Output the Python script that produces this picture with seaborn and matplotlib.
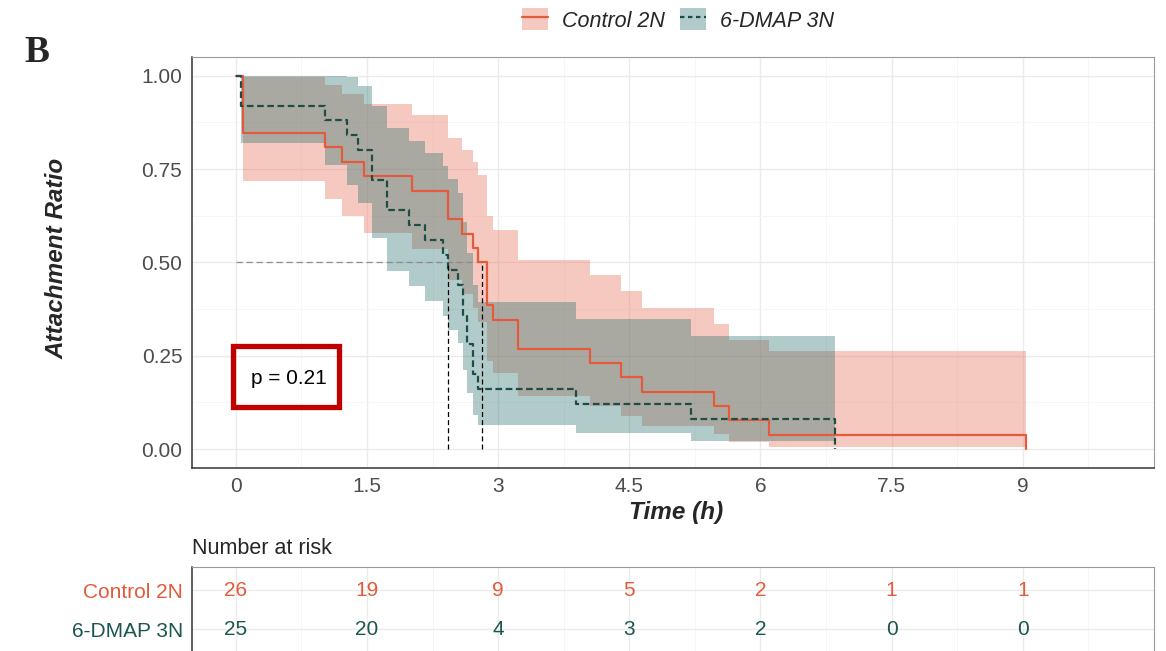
import numpy as np
import matplotlib
matplotlib.use("Agg")
import matplotlib.pyplot as plt
import seaborn as sns
from matplotlib.patches import Patch, Rectangle
from matplotlib.lines import Line2D

# ---------------- data ----------------
groups = ["Control 2N", "6-DMAP 3N"]

ctrl_time = [0, 0.08, 1.02, 1.22, 1.47, 2.01, 2.43, 2.59, 2.715, 2.765, 2.87, 2.945,
             3.23, 4.05, 4.40, 4.65, 5.47, 5.64, 6.10, 9.04]
ctrl_surv = [1, 0.846, 0.808, 0.769, 0.731, 0.692, 0.615, 0.577, 0.538, 0.500, 0.385,
             0.346, 0.269, 0.231, 0.192, 0.154, 0.115, 0.077, 0.038, 0.0]
ctrl_lower = [1, 0.718, 0.670, 0.623, 0.579, 0.536, 0.454, 0.415, 0.377, 0.340, 0.237,
              0.204, 0.143, 0.114, 0.088, 0.062, 0.040, 0.020, 0.006, np.nan]
ctrl_upper = [1, 0.997, 0.974, 0.950, 0.923, 0.895, 0.834, 0.802, 0.769, 0.734, 0.625,
              0.587, 0.507, 0.466, 0.423, 0.379, 0.335, 0.291, 0.263, np.nan]

dmap_time = [0, 0.065, 1.02, 1.27, 1.40, 1.556, 1.73, 1.98, 2.16, 2.375, 2.43, 2.54,
             2.60, 2.65, 2.715, 2.765, 3.89, 5.21, 6.85]
dmap_surv = [1, 0.92, 0.88, 0.84, 0.80, 0.72, 0.64, 0.60, 0.56, 0.52, 0.48, 0.44,
             0.36, 0.28, 0.20, 0.16, 0.12, 0.08, 0.0]
dmap_lower = [1, 0.820, 0.761, 0.708, 0.658, 0.564, 0.477, 0.436, 0.396, 0.357, 0.319,
              0.283, 0.213, 0.149, 0.091, 0.065, 0.042, 0.021, np.nan]
dmap_upper = [1, 1.0, 1.0, 0.997, 0.973, 0.919, 0.859, 0.826, 0.793, 0.758, 0.722,
              0.685, 0.607, 0.525, 0.438, 0.393, 0.347, 0.302, np.nan]

medians = [2.82, 2.43]
p_label = "p = 0.21"

risk_times = [0, 1.5, 3, 4.5, 6, 7.5, 9]
ctrl_risk = [26, 19, 9, 5, 2, 1, 1]
dmap_risk = [25, 20, 4, 3, 2, 0, 0]

x_ticks = [0, 1.5, 3, 4.5, 6, 7.5, 9]
x_ticklabels = ["0", "1.5", "3", "4.5", "6", "7.5", "9"]
y_ticks = [0, 0.25, 0.5, 0.75, 1.0]
y_ticklabels = ["0.00", "0.25", "0.50", "0.75", "1.00"]

# ---------------- style ----------------
sns.set_style("white")
plt.rcParams["font.family"] = ["Liberation Sans", "DejaVu Sans"]

C_CTRL_LINE = "#E35B3C"
C_CTRL_FILL = "#E96D55"
C_DMAP_LINE = "#1E4D45"
C_DMAP_FILL = "#2A736D"
C_DMAP_TEXT = "#1D5551"
ALPHA = 0.37
GRID_MAJ = "#EBEBEB"
GRID_MIN = "#F5F5F5"

W, H = 1166, 651
fig = plt.figure(figsize=(W / 100, H / 100), dpi=100)


def px(l, t, r, b):
    return [l / W, 1 - b / H, (r - l) / W, (b - t) / H]


ax = fig.add_axes(px(192, 57, 1154, 467.7))
axt = fig.add_axes(px(192, 567, 1154, 652.8))

XLIM = (-0.5, 10.5)


def setup_grid(a):
    a.set_xlim(*XLIM)
    a.set_xticks(x_ticks)
    a.set_xticks([0.75 + 1.5 * i for i in range(7)], minor=True)
    a.grid(which="major", color=GRID_MAJ, lw=1.0)
    a.grid(which="minor", color=GRID_MIN, lw=0.6)
    a.set_axisbelow(True)


# ---------------- main panel ----------------
setup_grid(ax)
ax.set_ylim(-0.05, 1.05)
ax.set_yticks(y_ticks)
ax.set_yticks([0.125, 0.375, 0.625, 0.875], minor=True)
ax.set_xticklabels(x_ticklabels)
ax.set_yticklabels(y_ticklabels)


def band(t, lo, hi, color):
    lo = np.asarray(lo, float).copy()
    hi = np.asarray(hi, float).copy()
    lo[-1] = lo[-2]
    hi[-1] = hi[-2]
    ax.fill_between(t, lo, hi, step="post", color=color, alpha=ALPHA, lw=0, zorder=1)


band(ctrl_time, ctrl_lower, ctrl_upper, C_CTRL_FILL)
band(dmap_time, dmap_lower, dmap_upper, C_DMAP_FILL)

sns.lineplot(x=ctrl_time, y=ctrl_surv, drawstyle="steps-post", estimator=None,
             sort=False, color=C_CTRL_LINE, lw=1.6, ax=ax, zorder=3)
sns.lineplot(x=dmap_time, y=dmap_surv, drawstyle="steps-post", estimator=None,
             sort=False, color=C_DMAP_LINE, lw=1.6, ax=ax, zorder=4,
             linestyle=(0, (3, 1.6)))

# median lines
ax.plot([0, max(medians)], [0.5, 0.5], color="#8C8C8C", lw=0.9,
        linestyle=(0, (5, 3)), zorder=2)
for m in medians:
    ax.plot([m, m], [0, 0.5], color="black", lw=0.9, linestyle=(0, (4, 2.5)), zorder=5)

# p-value box
ax.add_patch(Rectangle((-0.03, 0.113), 1.214, 0.1635, fill=False, ec="#C00000",
                       lw=3.8, zorder=6))
ax.text(0.61, 0.19, p_label, ha="center", va="center", fontsize=15, color="black", zorder=7)

ax.tick_params(axis="both", which="major", length=4, width=0.8, color="#333333",
               labelsize=15, labelcolor="#4D4D4D", pad=3)
ax.tick_params(axis="both", which="minor", length=0)
for s in ["left", "bottom"]:
    ax.spines[s].set_color("#333333")
    ax.spines[s].set_linewidth(1.1)
for s in ["top", "right"]:
    ax.spines[s].set_color("#9A9A9A")
    ax.spines[s].set_linewidth(0.8)
ax.set_xlabel("")
ax.set_ylabel("")

fig.text(676 / W, 1 - 512 / H, "Time (h)", ha="center", va="center", fontsize=17.5,
         fontweight="bold", fontstyle="italic")
fig.text(57 / W, 1 - 258 / H, "Attachment Ratio", ha="center", va="center",
         fontsize=17.5, fontweight="bold", fontstyle="italic", rotation=90)
fig.text(37 / W, 1 - 53 / H, "B", ha="center", va="center", fontsize=27,
         fontweight="bold", family=["Liberation Serif", "DejaVu Serif"])

# legend
h1 = (Patch(facecolor=C_CTRL_FILL, alpha=ALPHA, edgecolor="none"),
      Line2D([], [], color=C_CTRL_LINE, lw=1.6))
h2 = (Patch(facecolor=C_DMAP_FILL, alpha=ALPHA, edgecolor="none"),
      Line2D([], [], color=C_DMAP_LINE, lw=1.6, linestyle=(0, (2, 1.6))))
fig.legend([h1, h2], groups, loc="center", bbox_to_anchor=(678 / W, 1 - 20 / H),
           ncol=2, frameon=False, prop={"size": 15.5, "style": "italic"},
           handlelength=1.2, handleheight=1.2, handletextpad=0.65,
           columnspacing=0.7, borderpad=0)

# ---------------- risk table ----------------
setup_grid(axt)
axt.set_ylim(0.4, 2.6)
axt.set_yticks([2, 1])
axt.set_yticklabels(groups)
axt.set_xticklabels([])
axt.tick_params(axis="both", which="both", length=0, labelsize=15, pad=6.5)
for lab, col in zip(axt.get_yticklabels(), [C_CTRL_LINE, C_DMAP_TEXT]):
    lab.set_color(col)
for t, n in zip(risk_times, ctrl_risk):
    axt.text(t, 2, str(n), ha="center", va="center", fontsize=15, color=C_CTRL_LINE)
for t, n in zip(risk_times, dmap_risk):
    axt.text(t, 1, str(n), ha="center", va="center", fontsize=15, color=C_DMAP_TEXT)
axt.spines["left"].set_color("#333333")
axt.spines["left"].set_linewidth(1.1)
for s in ["top", "right"]:
    axt.spines[s].set_color("#9A9A9A")
    axt.spines[s].set_linewidth(0.8)
axt.spines["bottom"].set_visible(False)

fig.text(192 / W, 1 - 549 / H, "Number at risk", ha="left", va="center", fontsize=15.5)

fig.savefig("out.png", dpi=100)
